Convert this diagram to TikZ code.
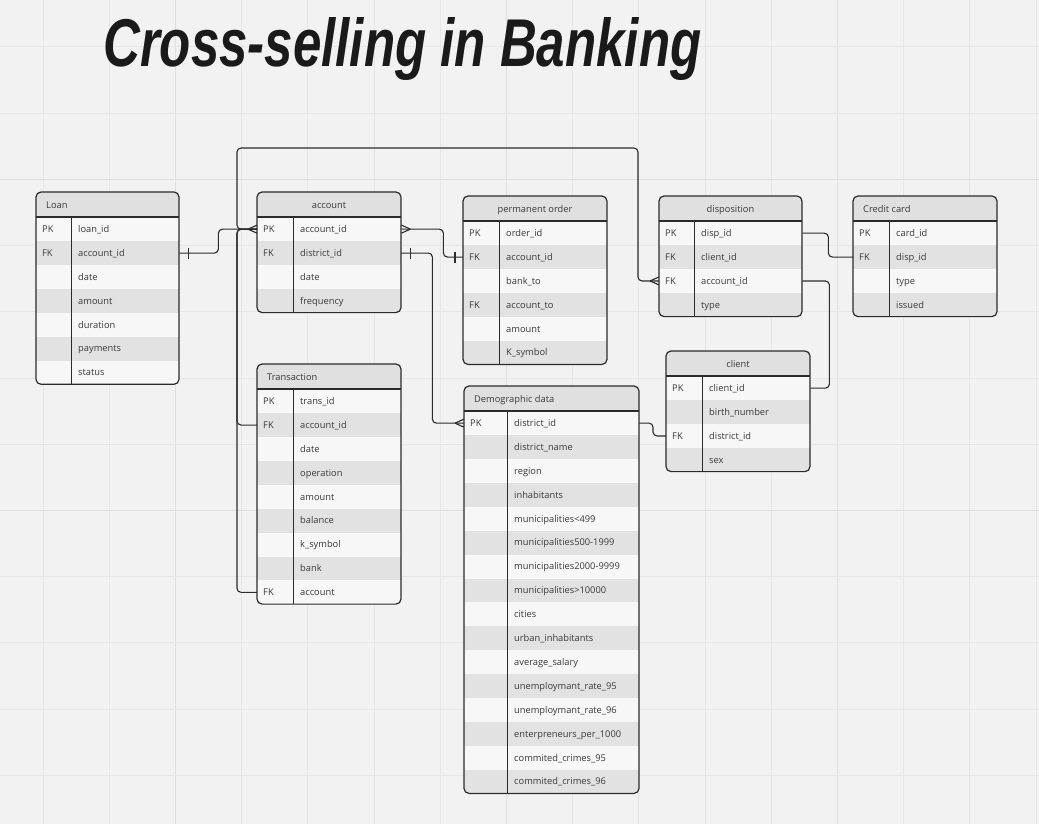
\documentclass[tikz,border=0pt]{standalone}
\usepackage{fontspec}
\setmainfont{Open Sans}
\newfontfamily\titlefont{Liberation Sans}
\usetikzlibrary{calc}
\definecolor{bg}{HTML}{F2F2F2}
\definecolor{gridc}{HTML}{E7E7E7}
\definecolor{gridd}{HTML}{DFDFDF}
\definecolor{hdr}{HTML}{E0E0E0}
\definecolor{rowA}{HTML}{F7F7F7}
\definecolor{rowB}{HTML}{E2E2E2}
\definecolor{ink}{HTML}{2B2B2B}
\definecolor{txt}{HTML}{383838}
\definecolor{titlec}{HTML}{1A1A1A}
\tikzset{
  conn/.style={draw=ink, line width=1.1pt, rounded corners=4pt},
  boxline/.style={draw=ink, line width=1.2pt},
  celltext/.style={inner sep=0pt, anchor=base west, text=txt, font=\fontsize{9.3}{11}\selectfont},
  rowbox/.style={draw=none, inner sep=0pt, anchor=north west, minimum height=23.9pt},
  pics/crowL/.style={code={\draw[draw=ink, line width=1.1pt] (-9,0) -- (0,-4) (-9,0) -- (0,4);}},
  pics/crowR/.style={code={\draw[draw=ink, line width=1.1pt] (9,0) -- (0,-4) (9,0) -- (0,4);}},
  pics/barL/.style={code={\draw[draw=ink, line width=1.1pt] (-8,-5.5) -- (-8,5.5);}},
  pics/barR/.style={code={\draw[draw=ink, line width=1.1pt] (9,-5.5) -- (9,5.5);}},
}
% #1 name, #2 left, #3 top, #4 right, #5 divider, #6 nrows, #7 header align (0 left / 1 center), #8 title, #9 rows
\newcommand\ertable[9]{%
  \pgfmathsetmacro\ybot{#3+25+#6*23.9}%
  \pgfmathsetmacro\wid{#4-#2}%
  \begin{scope}
    \clip[rounded corners=5pt] (#2,#3) rectangle (#4,\ybot);
    \fill[rowA] (#2,#3) rectangle (#4,\ybot);
    \fill[hdr] (#2,#3) rectangle (#4,#3+25);
    \foreach [count=\i] \k/\f in {#9} {
      \pgfmathsetmacro\ytop{#3+25+(\i-1)*23.9}
      \pgfmathsetmacro\ymid{\ytop+11.95}
      \ifodd\i \def\rc{rowA}\else\def\rc{rowB}\fi
      \node[rowbox, fill=\rc, minimum width=\wid pt] (#1-\i) at (#2,\ytop) {};
      \node[celltext] at (#2+6,\ymid+3.5) {\k};
      \node[celltext] at (#5+7,\ymid+3.5) {\f};
    }
  \end{scope}
  \ifnum#7=0
    \node[celltext] (#1-h) at (#2+10,#3+16) {#8};
  \else
    \node[celltext, anchor=base] (#1-h) at ({(#2+#4)/2},#3+16) {#8};
  \fi
  \draw[boxline] (#2,#3+25) -- (#4,#3+25);
  \draw[draw=ink, line width=1pt] (#5,#3+25) -- (#5,\ybot);
  \draw[boxline, rounded corners=5pt] (#2,#3) rectangle (#4,\ybot);
}
\begin{document}
\begin{tikzpicture}[x=1pt,y=-1pt]
\fill[bg] (0,0) rectangle (1039,824);
\useasboundingbox (0,0) rectangle (1039,824);
% grid
\foreach \k in {0,...,15} {
  \pgfmathsetmacro\gx{43+66.2*\k}
  \pgfmathtruncatemacro\m{mod(\k,5)}
  \ifnum\m=2 \def\gc{gridd}\else\def\gc{gridc}\fi
  \draw[\gc, line width=1pt] (\gx,0) -- (\gx,824);
}
\foreach \k in {0,...,11} {
  \pgfmathsetmacro\gy{47+66.2*\k}
  \pgfmathtruncatemacro\m{mod(\k,5)}
  \ifnum\m=2 \def\gc{gridd}\else\def\gc{gridc}\fi
  \draw[\gc, line width=1pt] (0,\gy) -- (1039,\gy);
}
% title
\node[inner sep=0pt, anchor=base west, text=titlec] (title) at (103,67)
  {\resizebox{598pt}{49pt}{\titlefont\bfseries\itshape Cross-selling in Banking}};

% tables
\ertable{loan}{36}{192}{179}{71}{7}{0}{Loan}
  {PK/loan\_id, FK/account\_id, /date, /amount, /duration, /payments, /status}
\ertable{account}{257}{192}{401}{293}{4}{1}{account}
  {PK/account\_id, FK/district\_id, /date, /frequency}
\ertable{perm}{463}{196}{607}{499}{6}{1}{permanent order}
  {PK/order\_id, FK/account\_id, /bank\_to, FK/account\_to, /amount, /K\_symbol}
\ertable{disp}{659}{196}{802}{694}{4}{1}{disposition}
  {PK/disp\_id, FK/client\_id, FK/account\_id, /type}
\ertable{card}{853}{196}{997}{889}{4}{0}{Credit card}
  {PK/card\_id, FK/disp\_id, /type, /issued}
\ertable{client}{666}{351}{810}{702}{4}{1}{client}
  {PK/client\_id, /birth\_number, FK/district\_id, /sex}
\ertable{trans}{257}{364}{401}{293}{9}{0}{Transaction}
  {PK/trans\_id, FK/account\_id, /date, /operation, /amount, /balance, /k\_symbol, /bank, FK/account}
\ertable{demo}{464}{386}{639}{507}{16}{0}{Demographic data}
  {PK/district\_id, /district\_name, /region, /inhabitants, /municipalities<499, /municipalities500-1999, /municipalities2000-9999, /municipalities>10000, /cities, /urban\_inhabitants, /average\_salary, /unemploymant\_rate\_95, /unemploymant\_rate\_96, /enterpreneurs\_per\_1000, /commited\_crimes\_95, /commited\_crimes\_96}

% connectors
\coordinate (topL) at (237,148);
\coordinate (topR) at (638,148);
\draw[conn] (loan-2.east) -- ++(39,0) |- (account-1.west);
\pic at (loan-2.east) {barR};
\pic at (account-1.west) {crowL};
\draw[conn] (account-1.west) -| (topL) -- (topR) |- (disp-3.west);
\pic at (disp-3.west) {crowL};
\draw[conn] (trans-2.west) -- ++(-20,0) |- (account-1.west);
\draw[conn] (trans-9.west) -- ++(-20,0) |- (account-1.west);
\draw[conn] (account-1.east) -- ++(42,0) |- (perm-2.west);
\pic at (account-1.east) {crowR};
\pic at (perm-2.west) {barL};
\draw[conn] (account-2.east) -- ++(31,0) |- (demo-1.west);
\pic at (account-2.east) {barR};
\pic at (demo-1.west) {crowL};
\draw[conn] (disp-1.east) -- ++(26,0) |- (card-2.west);
\draw[conn] (disp-3.east) -- ++(27,0) |- (client-1.east);
\draw[conn] (client-3.west) -- ++(-13,0) |- (demo-1.east);
\end{tikzpicture}
\end{document}
